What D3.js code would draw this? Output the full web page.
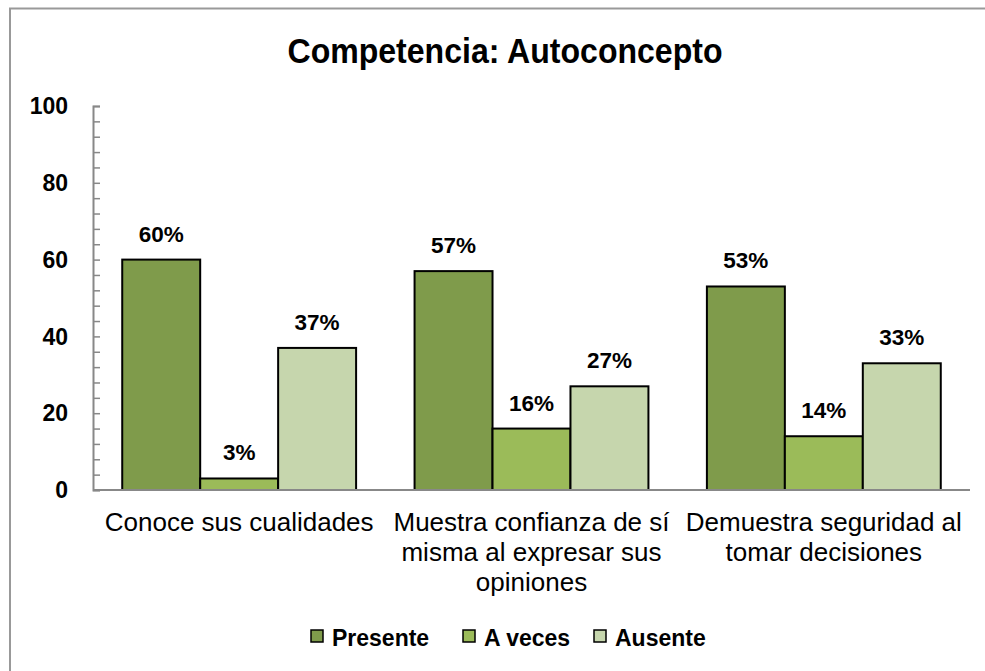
<!DOCTYPE html>
<html><head><meta charset="utf-8">
<script src="https://cdn.jsdelivr.net/npm/d3@7"></script>
<style>body{margin:0;background:#fff}</style>
</head><body>
<svg id="c" width="985" height="671"></svg>
<script>
const categories = ["Conoce sus cualidades", "Muestra confianza de sí misma al expresar sus opiniones", "Demuestra seguridad al tomar decisiones"];
const seriesNames = ["Presente", "A veces", "Ausente"];
const presente = [60, 57, 53];
const aVeces = [3, 16, 14];
const ausente = [37, 27, 33];
const yTicks = [0, 20, 40, 60, 80, 100];
const colors = ["#7F9B4B", "#9BBB59", "#C6D6AD"];

const values = [presente, aVeces, ausente];
const svg = d3.select("#c");
const bold = "'Liberation Sans',Arial,sans-serif";
const reg = "'Liberation Sans',Arial,sans-serif";

// border
svg.append("path").attr("d","M10,671 L10,8.5 L985,8.5").attr("fill","none").attr("stroke","#999").attr("stroke-width",2);

const x0 = 93, x1 = 970, yTop = 106, yBot = 490;
const x = d3.scaleBand().domain(categories).range([x0, x1]).paddingInner(0.2).paddingOuter(0.1);
const xs = d3.scaleBand().domain(seriesNames).range([0, x.bandwidth()]);
const y = d3.scaleLinear().domain([0, 100]).range([yBot, yTop]);

// title (condensed bold)
svg.append("text").attr("x", 505).attr("y", 63).attr("text-anchor","middle")
  .attr("font-family", bold).attr("font-weight","bold").attr("font-size", 35)
  .attr("textLength", 435).attr("lengthAdjust","spacingAndGlyphs")
  .text("Competencia: Autoconcepto");

// bars
seriesNames.forEach((s, si) => {
  svg.append("g").selectAll("rect").data(categories).join("rect")
    .attr("x", c => x(c) + xs(s))
    .attr("y", (c, i) => y(values[si][i]))
    .attr("width", xs.bandwidth())
    .attr("height", (c, i) => yBot - y(values[si][i]))
    .attr("fill", colors[si]).attr("stroke","#000").attr("stroke-width",2);
  svg.append("g").selectAll("text").data(categories).join("text")
    .attr("x", c => x(c) + xs(s) + xs.bandwidth()/2)
    .attr("y", (c, i) => y(values[si][i]) - 18)
    .attr("text-anchor","middle")
    .attr("font-family", bold).attr("font-weight","bold").attr("font-size", 22.5)
    .text((c, i) => values[si][i] + "%");
});

// y axis
const yAxis = d3.axisRight(y).tickValues(d3.range(0, 101, 4)).tickSize(7).tickFormat("");
const gy = svg.append("g").attr("transform", `translate(${x0},0)`).call(yAxis);
gy.select(".domain").attr("stroke","#888").attr("stroke-width",2);
gy.selectAll(".tick line").attr("stroke","#888").attr("stroke-width",1.5);
svg.append("g").selectAll("text").data(yTicks).join("text")
  .attr("x", 68).attr("y", d => y(d)).attr("dy","0.36em").attr("text-anchor","end")
  .attr("font-family", bold).attr("font-weight","bold").attr("font-size", 23).text(d => d);

// x axis
const gx = svg.append("g").attr("transform", `translate(0,${yBot})`).call(d3.axisBottom(x).tickSize(0).tickFormat(""));
gx.select(".domain").attr("stroke","#888").attr("stroke-width",2).attr("d", `M${x0},0H${x1}`);

// category labels with wrap
categories.forEach(c => {
  const cx = x(c) + x.bandwidth()/2;
  const t = svg.append("text").attr("x", cx).attr("y", 531)
    .attr("text-anchor","middle").attr("font-family", reg).attr("font-size", 26).attr("fill","#000");
  const words = c.split(" ");
  let line = [];
  let ts = t.append("tspan").attr("x", cx).attr("dy", 0);
  const maxW = x.step() - 2;
  words.forEach(w => {
    line.push(w);
    ts.text(line.join(" "));
    if (ts.node().getComputedTextLength() > maxW && line.length > 1) {
      line.pop(); ts.text(line.join(" "));
      line = [w];
      ts = t.append("tspan").attr("x", cx).attr("dy", 30).text(w);
    }
  });
});

// legend
const legX = [311, 463, 594];
seriesNames.forEach((s, i) => {
  svg.append("rect").attr("x", legX[i]).attr("y", 630).attr("width", 12).attr("height", 12)
    .attr("fill", colors[i]).attr("stroke","#000").attr("stroke-width",1.5);
  svg.append("text").attr("x", legX[i] + 21).attr("y", 646)
    .attr("font-family", bold).attr("font-weight","bold").attr("font-size", 23).text(s);
});
</script>
</body></html>
